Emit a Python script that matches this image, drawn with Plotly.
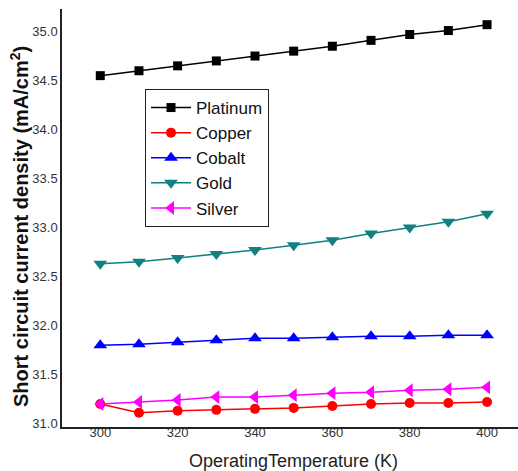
import plotly.graph_objects as go

temps = [300, 310, 320, 330, 340, 350, 360, 370, 380, 390, 400]
platinum = [34.55, 34.60, 34.65, 34.70, 34.75, 34.80, 34.85, 34.91, 34.97, 35.01, 35.07]
copper = [31.20, 31.11, 31.13, 31.14, 31.15, 31.16, 31.18, 31.20, 31.21, 31.21, 31.22]
cobalt = [31.80, 31.81, 31.83, 31.85, 31.87, 31.87, 31.88, 31.89, 31.89, 31.90, 31.90]
gold = [32.63, 32.65, 32.69, 32.73, 32.77, 32.82, 32.87, 32.94, 33.00, 33.06, 33.14]
silver = [31.20, 31.22, 31.24, 31.27, 31.27, 31.29, 31.31, 31.32, 31.34, 31.35, 31.37]

series = [
    ("Platinum", platinum, "#000000", "square", 9),
    ("Copper", copper, "#FF0000", "circle", 10),
    ("Cobalt", cobalt, "#0000FF", "triangle-up", 12),
    ("Gold", gold, "#108080", "triangle-down", 12),
    ("Silver", silver, "#FF00FF", "triangle-left", 12),
]

fig = go.Figure()
for name, vals, color, sym, size in series:
    fig.add_trace(go.Scatter(
        x=temps, y=vals, name=name, mode="lines+markers",
        line=dict(color=color, width=1.5),
        marker=dict(symbol=sym, size=size, color=color),
        legendgroup=name,
    ))

L, R, T, B = 62, 518, 9, 427
W, H = 518, 471
pw, ph = R - L, B - T

fig.update_layout(
    width=W, height=H,
    margin=dict(l=L, r=W - R, t=T, b=H - B, autoexpand=False),
    plot_bgcolor="white", paper_bgcolor="white",
    font=dict(family="Arial, Liberation Sans, sans-serif", color="#222"),
    showlegend=True,
    legend=dict(
        x=(145 - L) / pw, y=(B - 89) / ph,
        xanchor="left", yanchor="top",
        bordercolor="#222", borderwidth=1,
        font=dict(size=17, color="#111"),
        tracegroupgap=0, traceorder="grouped",
        itemwidth=40,
        bgcolor="white",
    ),
    xaxis=dict(
        range=[290.1, 408], tickvals=[300, 320, 340, 360, 380, 400],
        showgrid=False, zeroline=False, showline=True, linecolor="#222", linewidth=1.5,
        ticks="", tickfont=dict(size=13, color="#333"), automargin=False,
        ticklabelstandoff=-7,
    ),
    yaxis=dict(
        range=[30.965, 35.23], tickvals=[31.0, 31.5, 32.0, 32.5, 33.0, 33.5, 34.0, 34.5, 35.0],
        ticktext=["31.0", "31.5", "32.0", "32.5", "33.0", "33.5", "34.0", "34.5", "35.0"],
        showgrid=False, zeroline=False, showline=True, linecolor="#222", linewidth=1.5,
        ticks="", tickfont=dict(size=13, color="#333"), ticklabelstandoff=0, automargin=False,
    ),
)

fig.add_annotation(
    text="<b>Short circuit current density (mA/cm<sup>2</sup>)</b>",
    xref="paper", yref="paper", x=-(L - 20) / pw, y=(B - 227) / ph,
    xanchor="center", yanchor="middle", textangle=-90, showarrow=False,
    font=dict(size=20, color="#111"),
)
fig.add_annotation(
    text="OperatingTemperature (K)",
    xref="paper", yref="paper", x=(293 - L) / pw, y=-(461 - B) / ph,
    xanchor="center", yanchor="middle", showarrow=False,
    font=dict(size=18, color="#222"),
)

fig.write_html(
    "out.html",
    config={"displayModeBar": False},
    post_script="document.body.style.margin='0';document.body.style.overflow='hidden';",
)
